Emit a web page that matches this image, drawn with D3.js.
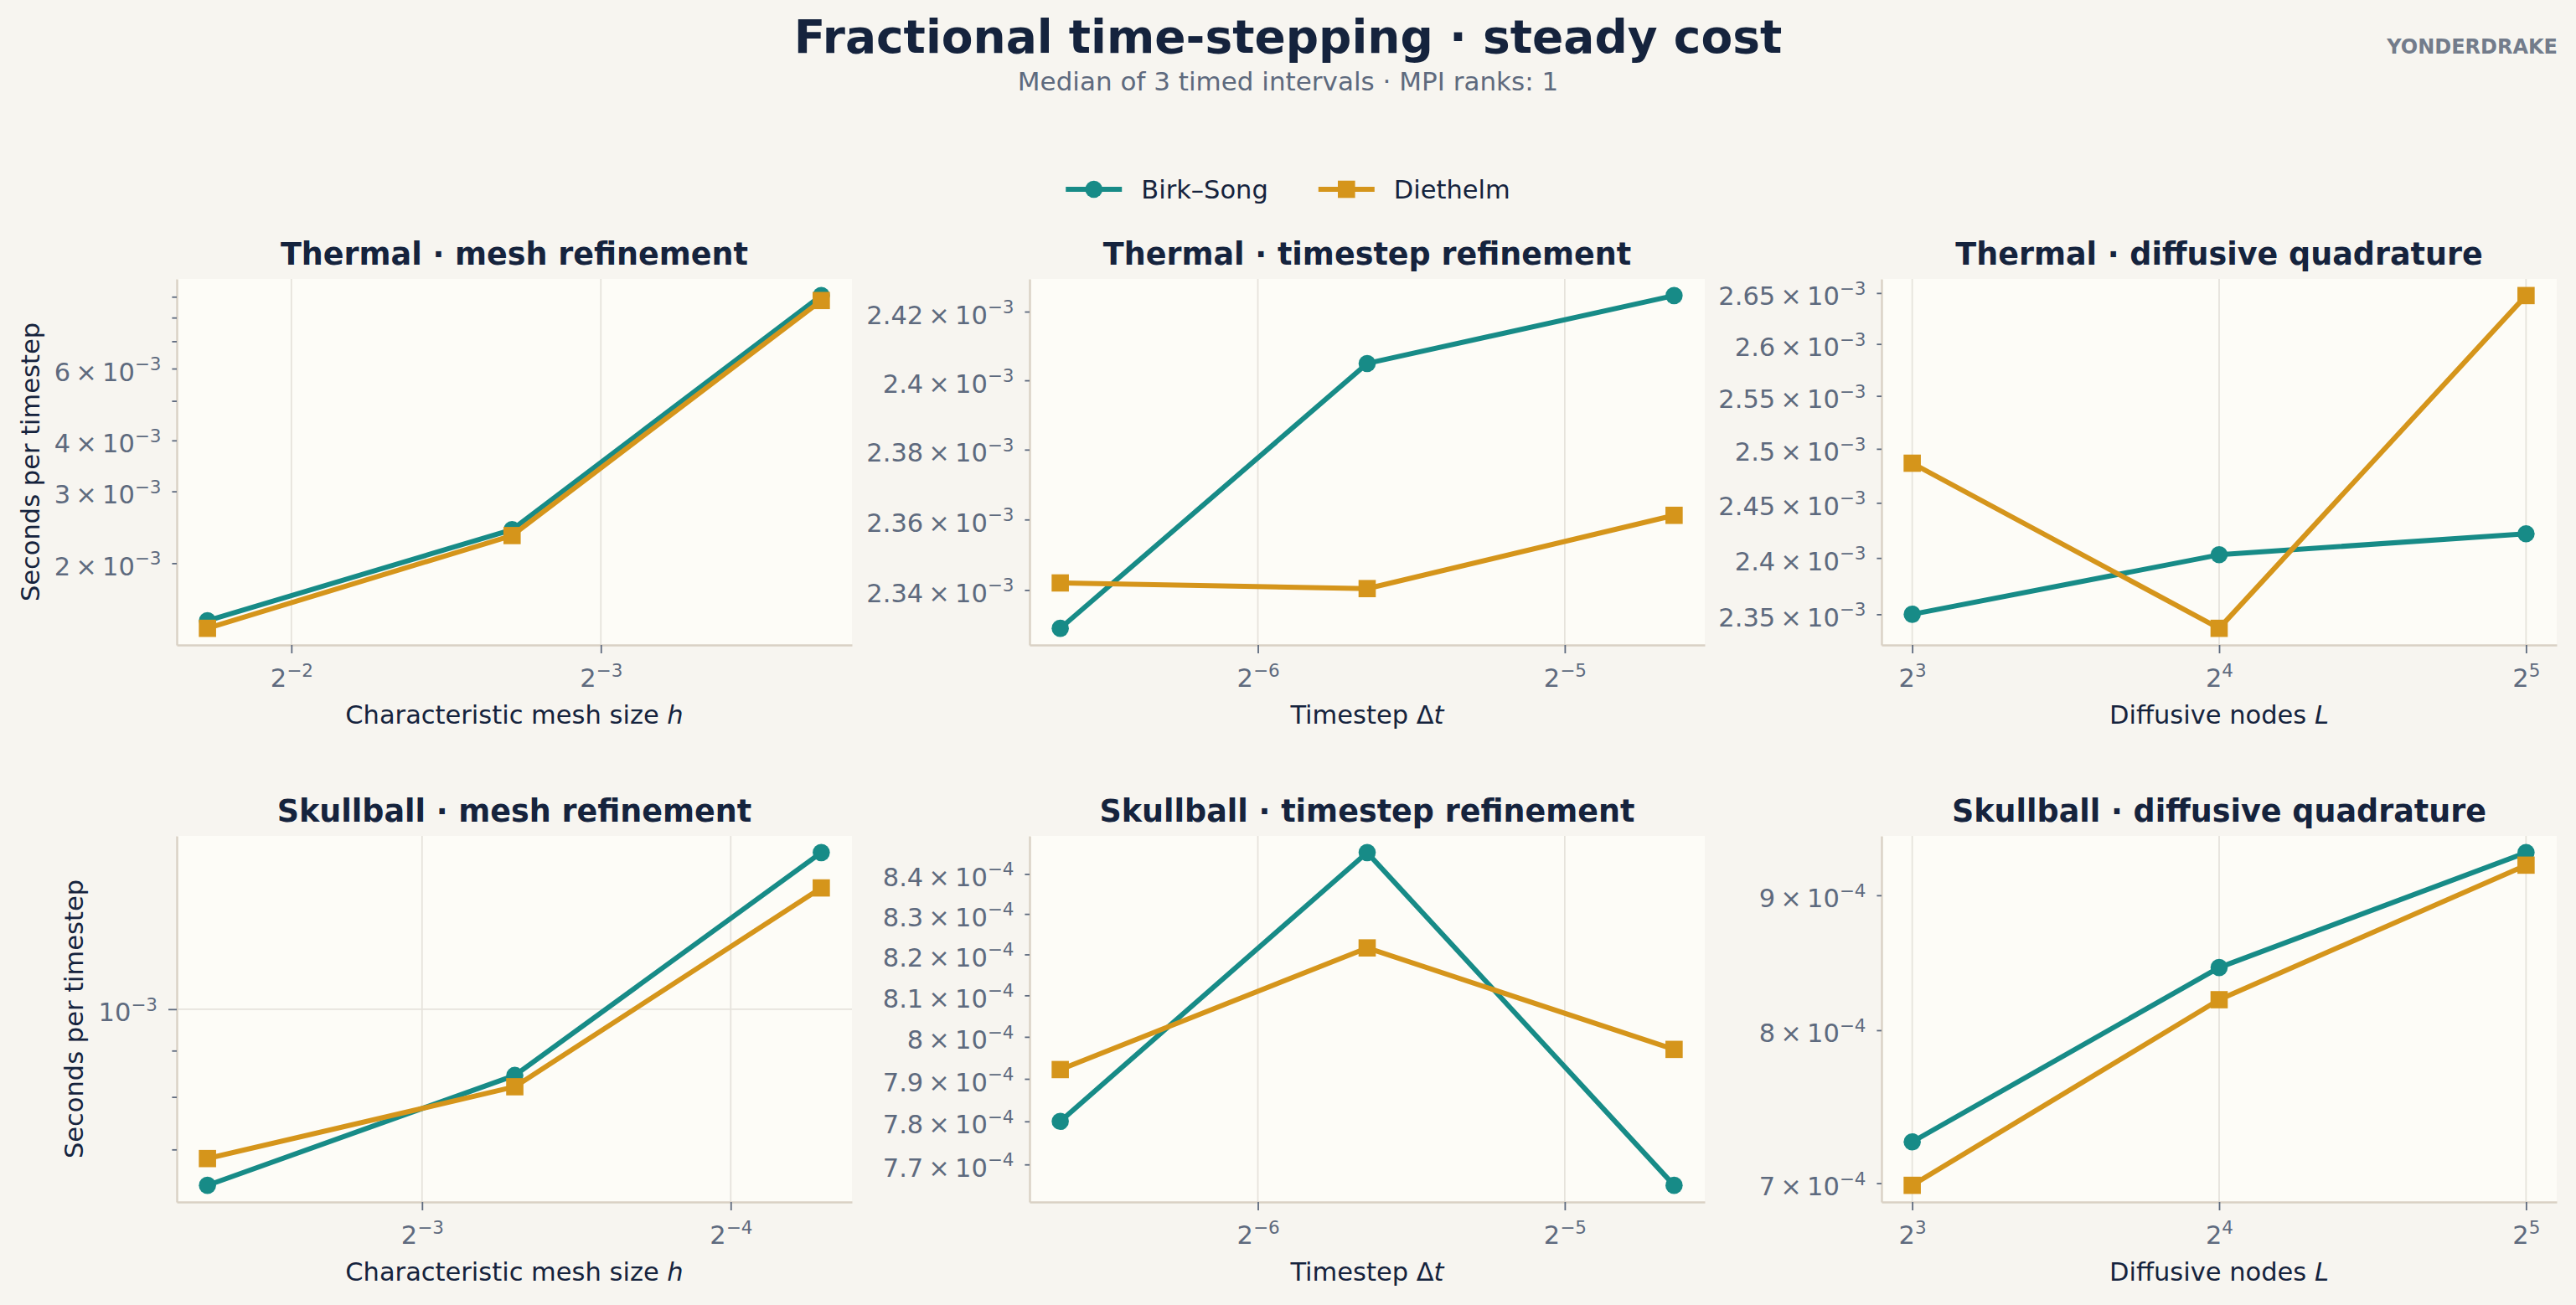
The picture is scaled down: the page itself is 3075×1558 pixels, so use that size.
<!DOCTYPE html>
<html>
<head>
<meta charset="utf-8">
<script src="https://cdn.jsdelivr.net/npm/d3@7"></script>
<style>
  body { margin: 0; background: #f7f5f0; }
  svg { display: block; font-family: "DejaVu Sans", sans-serif; }
</style>
</head>
<body>
<svg id="chart"></svg>
<script>
const WIDTH = 3075;
const HEIGHT = 1558;

const CHART_TITLE = "Fractional time-stepping · steady cost";
const CHART_SUBTITLE = "Median of 3 timed intervals · MPI ranks: 1";
const BRAND = "YONDERDRAKE";

const seriesNames = ["Birk–Song", "Diethelm"];
const seriesColors = ["#178b87", "#d5951b"];

const panelTitles = [
  "Thermal · mesh refinement",
  "Thermal · timestep refinement",
  "Thermal · diffusive quadrature",
  "Skullball · mesh refinement",
  "Skullball · timestep refinement",
  "Skullball · diffusive quadrature",
];
// [plain part, italic symbol]
const xAxisLabels = [
  ["Characteristic mesh size ", "h"],
  ["Timestep Δ", "t"],
  ["Diffusive nodes ", "L"],
];
const yAxisLabel = "Seconds per timestep";

// x values
const thermalMeshH = [0.3017, 0.1525, 0.0763];
const skullMeshH = [0.2024, 0.1015, 0.051];
const timesteps = [0.01, 0.02, 0.04];
const diffusiveNodes = [8, 16, 32];

// seconds per timestep
const thermalMeshBirk = [1.446e-3, 2.418e-3, 9.06e-3];
const thermalMeshDiet = [1.385e-3, 2.338e-3, 8.81e-3];
const thermalDtBirk = [2.3292e-3, 2.4049e-3, 2.4247e-3];
const thermalDtDiet = [2.342e-3, 2.3404e-3, 2.3612e-3];
const thermalNodesBirk = [2.350e-3, 2.4029e-3, 2.4219e-3];
const thermalNodesDiet = [2.4866e-3, 2.3377e-3, 2.6475e-3];
const skullMeshBirk = [6.39e-4, 8.45e-4, 1.489e-3];
const skullMeshDiet = [6.84e-4, 8.21e-4, 1.361e-3];
const skullDtBirk = [7.80e-4, 8.454e-4, 7.652e-4];
const skullDtDiet = [7.922e-4, 8.216e-4, 7.970e-4];
const skullNodesBirk = [7.257e-4, 8.450e-4, 9.342e-4];
const skullNodesDiet = [6.987e-4, 8.216e-4, 9.240e-4];

// x ticks as powers of two
const thermalMeshXExp = [-2, -3];
const skullMeshXExp = [-3, -4];
const timestepXExp = [-6, -5];
const nodesXExp = [3, 4, 5];

// y ticks (all drawn) and the ones carrying a label
const thermalMeshYTicks = [2e-3, 3e-3, 4e-3, 5e-3, 6e-3, 7e-3, 8e-3, 9e-3];
const thermalMeshYLabelled = [2e-3, 3e-3, 4e-3, 6e-3];
const thermalDtYTicks = [2.34e-3, 2.36e-3, 2.38e-3, 2.40e-3, 2.42e-3];
const thermalNodesYTicks = [2.35e-3, 2.40e-3, 2.45e-3, 2.50e-3, 2.55e-3, 2.60e-3, 2.65e-3];
const skullMeshYTicks = [7e-4, 8e-4, 9e-4, 1e-3];
const skullMeshYLabelled = [1e-3];
const skullDtYTicks = [7.7e-4, 7.8e-4, 7.9e-4, 8.0e-4, 8.1e-4, 8.2e-4, 8.3e-4, 8.4e-4];
const skullNodesYTicks = [7e-4, 8e-4, 9e-4];

const panels = [
  { x: thermalMeshH, ys: [thermalMeshBirk, thermalMeshDiet], xExp: thermalMeshXExp, reverse: true,
    yTicks: thermalMeshYTicks, yLabelled: thermalMeshYLabelled, xl: 0 },
  { x: timesteps, ys: [thermalDtBirk, thermalDtDiet], xExp: timestepXExp, reverse: false,
    yTicks: thermalDtYTicks, yLabelled: thermalDtYTicks, xl: 1 },
  { x: diffusiveNodes, ys: [thermalNodesBirk, thermalNodesDiet], xExp: nodesXExp, reverse: false,
    yTicks: thermalNodesYTicks, yLabelled: thermalNodesYTicks, xl: 2 },
  { x: skullMeshH, ys: [skullMeshBirk, skullMeshDiet], xExp: skullMeshXExp, reverse: true,
    yTicks: skullMeshYTicks, yLabelled: skullMeshYLabelled, xl: 0 },
  { x: timesteps, ys: [skullDtBirk, skullDtDiet], xExp: timestepXExp, reverse: false,
    yTicks: skullDtYTicks, yLabelled: skullDtYTicks, xl: 1 },
  { x: diffusiveNodes, ys: [skullNodesBirk, skullNodesDiet], xExp: nodesXExp, reverse: false,
    yTicks: skullNodesYTicks, yLabelled: skullNodesYTicks, xl: 2 },
];

const NAVY = "#15233d";
const SLATE = "#5e6a7e";
const SPINE = "#d9d1c4";
const GRID = "#e6e3dc";
const PLOT_BG = "#fdfcf7";
const FS = 30.5;
const SUP_FS = 21.5;
const SUP_RISE = 12.5;

const COL_X = [211, 1229, 2246];
const ROW_Y = [333, 998];
const PW = 806;
const PH = 437;

const svg = d3.select("#chart").attr("width", WIDTH).attr("height", HEIGHT);
svg.append("rect").attr("width", WIDTH).attr("height", HEIGHT).attr("fill", "#f7f5f0");

// header
svg.append("text")
  .attr("x", WIDTH / 2).attr("y", 63)
  .attr("text-anchor", "middle").attr("font-weight", "bold")
  .attr("font-size", 55).attr("fill", NAVY)
  .text(CHART_TITLE);
svg.append("text")
  .attr("x", WIDTH / 2).attr("y", 108)
  .attr("text-anchor", "middle").attr("font-size", 31).attr("fill", SLATE)
  .text(CHART_SUBTITLE);
svg.append("text")
  .attr("x", 3053).attr("y", 64)
  .attr("text-anchor", "end").attr("font-weight", "bold")
  .attr("font-size", 24).attr("fill", "#737c8b")
  .text(BRAND);

// log-space padding like matplotlib's 5% margins
function paddedLog(vals) {
  const lo = Math.log10(d3.min(vals));
  const hi = Math.log10(d3.max(vals));
  const pad = 0.05 * (hi - lo);
  return [Math.pow(10, lo - pad), Math.pow(10, hi + pad)];
}

const isDecade = (v) => Math.abs(Math.log10(v) - Math.round(Math.log10(v))) < 1e-9;

function supText(sel, base, exp) {
  sel.text(null);
  sel.append("tspan").text(base);
  sel.append("tspan")
    .attr("dy", -SUP_RISE)
    .attr("font-size", SUP_FS)
    .text((exp < 0 ? "\u2212" : "") + Math.abs(exp));
}

function yParts(v) {
  const exp = Math.floor(Math.log10(v) + 1e-9);
  const mant = Math.round((v / Math.pow(10, exp)) * 100) / 100;
  // thin spaces around the times sign, as in mathtext
  return { exp, base: mant === 1 ? "10" : `${mant}\u2009\u00d7\u200910` };
}

const line = d3.line();

panels.forEach((p, i) => {
  const col = i % 3;
  const row = Math.floor(i / 3);
  const g = svg.append("g")
    .attr("transform", `translate(${COL_X[col]},${ROW_Y[row]})`);

  const xDom = paddedLog(p.x);
  const x = d3.scaleLog().base(2)
    .domain(p.reverse ? [xDom[1], xDom[0]] : xDom)
    .range([0, PW]);
  const allY = p.ys.flat();
  const y = d3.scaleLog().domain(paddedLog(allY)).range([PH, 0]);

  g.append("rect").attr("width", PW).attr("height", PH).attr("fill", PLOT_BG);

  const xTickVals = p.xExp.map((e) => Math.pow(2, e));

  // grid on major ticks
  g.selectAll(".vgrid").data(xTickVals).enter().append("line")
    .attr("x1", (d) => x(d)).attr("x2", (d) => x(d))
    .attr("y1", 0).attr("y2", PH)
    .attr("stroke", GRID).attr("stroke-width", 1.8);
  g.selectAll(".hgrid").data(p.yTicks.filter(isDecade)).enter().append("line")
    .attr("x1", 0).attr("x2", PW)
    .attr("y1", (d) => y(d)).attr("y2", (d) => y(d))
    .attr("stroke", GRID).attr("stroke-width", 1.8);

  // y axis
  const gy = g.append("g")
    .call(d3.axisLeft(y).tickValues(p.yTicks).tickSizeOuter(0).tickFormat(() => ""));
  gy.attr("font-size", null).attr("font-family", null);
  gy.select(".domain").attr("stroke", SPINE).attr("stroke-width", 2.4);
  gy.selectAll(".tick line")
    .attr("stroke", SLATE).attr("stroke-width", 1.8)
    .attr("x2", (d) => (isDecade(d) ? -10 : -5.6));
  gy.selectAll(".tick text")
    .attr("x", (d) => (isDecade(d) ? -23 : -18.5))
    .attr("y", 14).attr("dy", null)
    .attr("font-size", FS).attr("fill", SLATE)
    .each(function (d) {
      const labelled = p.yLabelled.some((v) => Math.abs(v - d) / d < 1e-6);
      if (!labelled) { d3.select(this).remove(); return; }
      const parts = yParts(d);
      supText(d3.select(this), parts.base, parts.exp);
    });

  // x axis
  const gx = g.append("g")
    .attr("transform", `translate(0,${PH})`)
    .call(d3.axisBottom(x).tickValues(xTickVals).tickSizeOuter(0).tickFormat(() => ""));
  gx.attr("font-size", null).attr("font-family", null);
  gx.select(".domain").attr("stroke", SPINE).attr("stroke-width", 2.4);
  gx.selectAll(".tick line").attr("stroke", SLATE).attr("stroke-width", 1.8).attr("y2", 10);
  gx.selectAll(".tick text")
    .attr("y", 50).attr("dy", null)
    .attr("font-size", FS).attr("fill", SLATE)
    .each(function (d, k) { supText(d3.select(this), "2", p.xExp[k]); });

  // series: line + markers, Diethelm drawn on top
  p.ys.forEach((vals, s) => {
    const pts = vals.map((v, k) => [x(p.x[k]), y(v)]);
    g.append("path")
      .attr("d", line(pts))
      .attr("fill", "none").attr("stroke", seriesColors[s])
      .attr("stroke-width", 6).attr("stroke-linejoin", "round");
    if (s === 0) {
      g.selectAll(null).data(pts).enter().append("circle")
        .attr("cx", (d) => d[0]).attr("cy", (d) => d[1]).attr("r", 10.3)
        .attr("fill", seriesColors[s]);
    } else {
      g.selectAll(null).data(pts).enter().append("rect")
        .attr("x", (d) => d[0] - 10.3).attr("y", (d) => d[1] - 10.3)
        .attr("width", 20.6).attr("height", 20.6)
        .attr("fill", seriesColors[s]);
    }
  });

  // panel title
  g.append("text")
    .attr("x", PW / 2).attr("y", -17.5)
    .attr("text-anchor", "middle").attr("font-weight", "bold")
    .attr("font-size", 36.5).attr("fill", NAVY)
    .text(panelTitles[i]);

  // x label
  const xl = g.append("text")
    .attr("x", PW / 2).attr("y", PH + 93.5)
    .attr("text-anchor", "middle").attr("font-size", FS).attr("fill", NAVY);
  xl.append("tspan").text(xAxisLabels[p.xl][0]);
  xl.append("tspan").attr("font-style", "italic").text(xAxisLabels[p.xl][1]);

  // y label on the first column, placed left of the widest tick label
  if (col === 0) {
    const bb = gy.node().getBBox();
    g.append("text")
      .attr("transform", `translate(${bb.x - 18},${PH / 2}) rotate(-90)`)
      .attr("text-anchor", "middle").attr("font-size", FS).attr("fill", NAVY)
      .text(yAxisLabel);
  }
});

// legend, centred under the header
const legend = svg.append("g");
const entries = seriesNames.map((name, s) => {
  const e = legend.append("g");
  e.append("line")
    .attr("x1", 0).attr("x2", 67).attr("y1", 0).attr("y2", 0)
    .attr("stroke", seriesColors[s]).attr("stroke-width", 6);
  if (s === 0) {
    e.append("circle").attr("cx", 33.5).attr("cy", 0).attr("r", 10.3).attr("fill", seriesColors[s]);
  } else {
    e.append("rect").attr("x", 33.5 - 10.3).attr("y", -10.3)
      .attr("width", 20.6).attr("height", 20.6).attr("fill", seriesColors[s]);
  }
  const t = e.append("text")
    .attr("x", 90).attr("y", 11)
    .attr("font-size", FS).attr("fill", NAVY)
    .text(name);
  return { e, w: 90 + t.node().getComputedTextLength() };
});
const GAP = 60;
const total = d3.sum(entries, (d) => d.w) + GAP * (entries.length - 1);
let cx = WIDTH / 2 - total / 2;
entries.forEach((d) => {
  d.e.attr("transform", `translate(${cx},226)`);
  cx += d.w + GAP;
});
</script>
</body>
</html>
